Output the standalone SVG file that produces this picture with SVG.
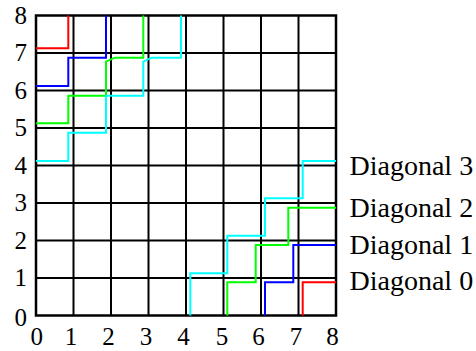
<svg xmlns="http://www.w3.org/2000/svg" width="476" height="351" viewBox="0 0 476 351">
<style>
.grid{stroke:#000;stroke-width:2;fill:none}
.border{stroke:#000;stroke-width:2.5;fill:none}
.p{fill:none;stroke-width:2;stroke-linejoin:miter}
.tick{font-family:"Liberation Serif","Times New Roman",serif;font-size:25px;fill:#000}
.lbl{font-family:"Liberation Serif","Times New Roman",serif;font-size:28px;fill:#000}
</style>
<rect width="476" height="351" fill="#fff"/>
<g id="grid">
<path class="grid" d="M73.5,15.5V315.5M111,15.5V315.5M148.5,15.5V315.5M186,15.5V315.5M223.5,15.5V315.5M261,15.5V315.5M298.5,15.5V315.5M36,53H336M36,90.5H336M36,128H336M36,165.5H336M36,203H336M36,240.5H336M36,278H336"/>
<rect class="border" x="36" y="15.5" width="300" height="300"/>
</g>
<g id="connectors">
<path class="p" stroke="#ff0000" d="M36,48.3H68.3V15.5"/>
<path class="p" stroke="#0000ff" d="M36,86H68.3V57.7H106V15.5"/>
<path class="p" stroke="#00ff00" d="M36,123.3H68.3V95.7H106V61.7L115,57.7H143.3V15.5"/>
<path class="p" stroke="#00ffff" d="M36,161H68.3V132.7H106V95.7H143.3V61.7L151.7,57.7H181V15.5"/>
<path class="p" stroke="#00ffff" d="M190.3,315.5V273.3H227.3V235.7H265V198.3H302.7V161H336"/>
<path class="p" stroke="#00ff00" d="M227.3,315.5V282.3H255.7V245H288.3V207.7H336"/>
<path class="p" stroke="#0000ff" d="M265,315.5V282.3H293.3V245H336"/>
<path class="p" stroke="#ff0000" d="M302.7,315.5V282.3H336"/>
</g>
<g id="y-ticks" class="tick" text-anchor="end">
<text x="27" y="24.2">8</text>
<text x="27" y="61.2">7</text>
<text x="27" y="98.7">6</text>
<text x="27" y="136.2">5</text>
<text x="27" y="173.7">4</text>
<text x="27" y="211.2">3</text>
<text x="27" y="248.7">2</text>
<text x="27" y="286.2">1</text>
<text x="27" y="325.7">0</text>
</g>
<g id="x-ticks" class="tick" text-anchor="middle">
<text x="36.7" y="345">0</text>
<text x="71" y="345">1</text>
<text x="108.5" y="345">2</text>
<text x="146" y="345">3</text>
<text x="183.5" y="345">4</text>
<text x="222" y="345">5</text>
<text x="258.5" y="345">6</text>
<text x="296" y="345">7</text>
<text x="332.5" y="345">8</text>
</g>
<g id="labels" class="lbl">
<text x="349.5" y="175">Diagonal 3</text>
<text x="349.5" y="216.7">Diagonal 2</text>
<text x="349.5" y="254.3">Diagonal 1</text>
<text x="349.5" y="290">Diagonal 0</text>
</g>
</svg>
